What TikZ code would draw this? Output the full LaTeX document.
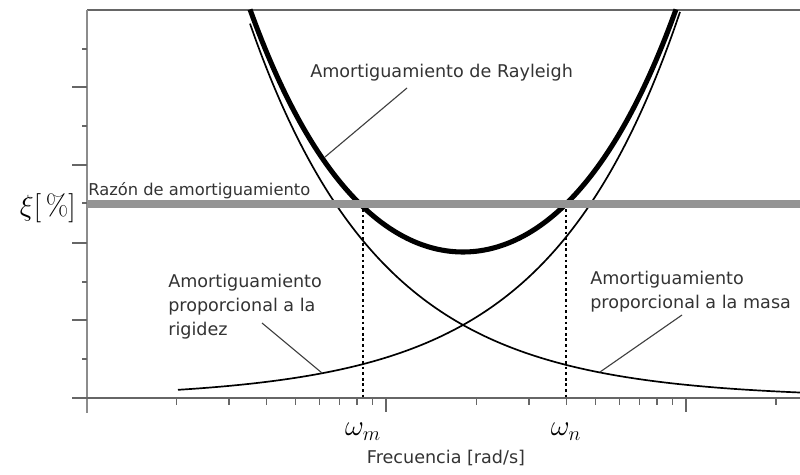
\documentclass[tikz,border=0pt]{standalone}
\usepackage{fontspec}
\setsansfont{DejaVu Sans}
\usetikzlibrary{calc,arrows,positioning}

\begin{document}
\begin{tikzpicture}[x=0.025cm,y=-0.025cm]
\tikzstyle{txt} = [font=\sffamily\fontsize{12.5}{17}\selectfont, text=black!80, inner sep=0pt, align=left]
\tikzstyle{axis} = [draw=black!60, line width=1.3pt]
\tikzstyle{tick} = [draw=black!60, line width=1pt]
\tikzstyle{thincurve} = [line width=1.2pt, smooth]
\tikzstyle{thickcurve} = [line width=3.6pt, smooth]
\tikzstyle{leader} = [draw=black!75, line width=0.8pt]
\tikzstyle{band} = [draw=black!42, line width=6.2pt]
\tikzstyle{guide} = [line width=1.2pt, dash pattern=on 2pt off 2pt]
    \useasboundingbox (0,0) rectangle (800,474);
    \coordinate (YTop) at (87,10);
    \coordinate (YBottom) at (87,413);
    \coordinate (XLeft) at (72,398);
    \coordinate (XRight) at (800,398);
    \coordinate (TopRight) at (800,10);
    \coordinate (BandLeft) at (87,204);
    \coordinate (BandRight) at (800,204);
    \coordinate (Wm) at (363,398);
    \coordinate (Wn) at (566,398);
    \coordinate (WmTop) at (363,209);
    \coordinate (WnTop) at (566,209);
    \coordinate (RayleighTip) at (407,88);
    \coordinate (RayleighFoot) at (325,157);
    \coordinate (RigidezTip) at (262,323);
    \coordinate (RigidezFoot) at (322,373);
    \coordinate (MasaTip) at (682,315);
    \coordinate (MasaFoot) at (600,372);
    \node[txt,anchor=base west] (Rayleigh) at (310,77) {Amortiguamiento de Rayleigh};
    \node[txt,anchor=base west,font=\sffamily\fontsize{11.6}{14}\selectfont] (Razon) at (88,195) {Razón de amortiguamiento};
    \node[txt,anchor=north west] (Rigidez) at (168,274) {Amortiguamiento\\proporcional a la\\rigidez};
    \node[txt,anchor=north west] (Masa) at (590,271) {Amortiguamiento\\proporcional a la masa};
    \node[txt,anchor=base] (Frecuencia) at (446,463) {Frecuencia [rad/s]};
    \node[inner sep=0pt,anchor=base east,font=\huge] (Xi) at (76,215) {$\xi[\,\%]$};
    \node[inner sep=0pt,below=.62cm of Wm,font=\huge] (OmegaM) {$\omega_m$};
    \node[inner sep=0pt,below=.62cm of Wn,font=\huge] (OmegaN) {$\omega_n$};

    \draw[axis] (YTop) -- (TopRight);
    \draw[axis,draw=black!45] (YTop) -- (YBottom);
    \draw[axis] (XLeft) -- (XRight);
    \foreach \y in {87,165,243,320} \draw[tick] (72,\y) -- (87,\y);
    \foreach \y in {49,126,203,282,359} \draw[tick] (82,\y) -- (87,\y);
    \foreach \k in {2,...,9} {
        \draw[tick] ({86+300*log10(\k)},398) -- ++(0,7);
        \draw[tick] ({386+300*log10(\k)},398) -- ++(0,7);
    }
    \foreach \x in {386,686} \draw[tick] (\x,398) -- ++(0,14);
    \draw[tick] (776,398) -- ++(0,7);
    \draw[thincurve] plot[domain=250:800,samples=90] (\x,{398-73*exp(-0.0076753*(\x-463))});
    \draw[thincurve] plot[domain=178:680,samples=90] (\x,{398-73*exp(0.0076753*(\x-463))});
    \draw[thickcurve] plot[domain=250:676,samples=90] (\x,{398-146*cosh(0.0076753*(\x-463))});
    \draw[band] (BandLeft) -- (BandRight);
    \draw[guide] (WmTop) -- (Wm);
    \draw[guide] (WnTop) -- (Wn);
    \draw[leader] (RayleighTip) -- (RayleighFoot);
    \draw[leader] (RigidezTip) -- (RigidezFoot);
    \draw[leader] (MasaTip) -- (MasaFoot);
\end{tikzpicture}
\end{document}
